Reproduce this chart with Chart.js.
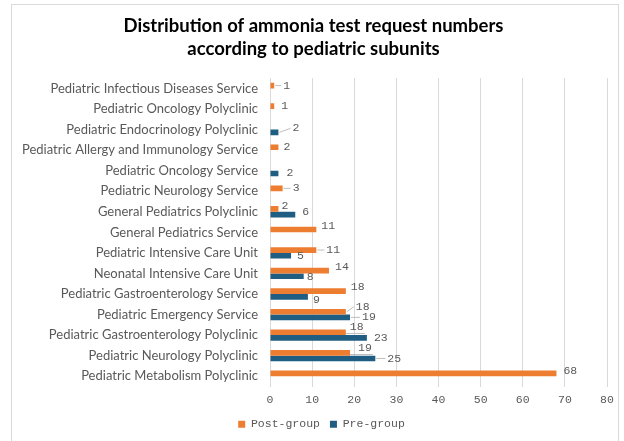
<!DOCTYPE html>
<html>
<head>
<meta charset="utf-8">
<script src="https://cdn.jsdelivr.net/npm/chart.js@4"></script>
<style>
  body { margin: 0; background: #fff; }
</style>
</head>
<body>
<canvas id="myChart" width="624" height="441"></canvas>
<script>
const categories = [
  "Pediatric Infectious Diseases Service",
  "Pediatric Oncology Polyclinic",
  "Pediatric Endocrinology Polyclinic",
  "Pediatric Allergy and Immunology Service",
  "Pediatric Oncology Service",
  "Pediatric Neurology Service",
  "General Pediatrics Polyclinic",
  "General Pediatrics Service",
  "Pediatric Intensive Care Unit",
  "Neonatal Intensive Care Unit",
  "Pediatric Gastroenterology Service",
  "Pediatric Emergency Service",
  "Pediatric Gastroenterology Polyclinic",
  "Pediatric Neurology Polyclinic",
  "Pediatric Metabolism Polyclinic"
];

const postGroup = [1, 1, null, 2, null, 3, 2, 11, 11, 14, 18, 18, 18, 19, 68];
const preGroup = [null, null, 2, null, 2, null, 6, null, 5, 8, 9, 19, 23, 25, null];

const xMin = 0;
const xMax = 80;
const xStep = 10;

// label nudges from the bar end: [dx, dy, leader] ; leader 'under' = line below the text
const postNudge = [
  [9, 0, true], [7, 0], null, [5, 0], null, [10, 0, true], [3, -3], [5, -4],
  [10, 0, true], [6, -4], [5, -4], [10, -5, true], [4, -5, 'under'], [8, -5, 'under'], [7, -2]
];
const preNudge = [
  null, null, [14, -4, true], null, [8, -1], null, [7, -3], null,
  [6, 0], [3, 1], [5, 3], [12, 0, true], [7, 0], [12, 0, true], null
];

const gray = '#595959';
const catFont = 'Lato, "Noto Sans", sans-serif';
const monoFont = '"Liberation Mono", "DejaVu Sans Mono", monospace';

const frame = {
  id: 'frame',
  beforeDraw(chart) {
    const ctx = chart.ctx;
    ctx.save();
    ctx.fillStyle = '#fff';
    ctx.fillRect(0, 0, chart.width, chart.height);
    ctx.strokeStyle = '#D9D9D9';
    ctx.lineWidth = 1;
    ctx.strokeRect(11.5, 4.5, 607, 445);
    ctx.restore();
  }
};

// title and legend sit a little right of the plot centre
const blockShift = {
  id: 'blockShift',
  afterLayout(chart) {
    chart.legend.left += 18;
    chart.legend.right += 18;
    chart.titleBlock.left += 10;
    chart.titleBlock.right += 10;
  }
};

const valueLabels = {
  id: 'valueLabels',
  afterDatasetsDraw(chart) {
    const ctx = chart.ctx;
    const nudges = [postNudge, preNudge];
    ctx.save();
    ctx.font = '11.5px ' + monoFont;
    ctx.fillStyle = gray;
    ctx.textAlign = 'left';
    ctx.textBaseline = 'middle';
    ctx.strokeStyle = '#BFBFBF';
    ctx.lineWidth = 1;
    chart.data.datasets.forEach((ds, d) => {
      const meta = chart.getDatasetMeta(d);
      meta.data.forEach((bar, i) => {
        const v = ds.data[i];
        const n = nudges[d][i];
        if (v === null || !n) return;
        const text = String(v);
        const tx = bar.x + n[0];
        const ty = bar.y + n[1];
        if (n[2] === 'under') {
          const w = ctx.measureText(text).width;
          const ly = Math.round(ty + 6) + 0.5;
          ctx.beginPath();
          ctx.moveTo(bar.x, ly);
          ctx.lineTo(tx + w + 1, ly);
          ctx.stroke();
        } else if (n[2]) {
          ctx.beginPath();
          ctx.moveTo(bar.x + 1, bar.y);
          ctx.lineTo(tx - 2, ty);
          ctx.stroke();
        }
        ctx.fillText(text, tx, ty);
      });
    });
    ctx.restore();
  }
};

new Chart(document.getElementById('myChart').getContext('2d'), {
  type: 'bar',
  data: {
    labels: categories,
    datasets: [
      {
        label: 'Post-group',
        data: postGroup,
        backgroundColor: '#ED7D31',
        categoryPercentage: 0.55,
        barPercentage: 1
      },
      {
        label: 'Pre-group',
        data: preGroup,
        backgroundColor: '#1F5E82',
        categoryPercentage: 0.55,
        barPercentage: 1
      }
    ]
  },
  options: {
    indexAxis: 'y',
    responsive: false,
    animation: false,
    layout: { padding: { left: 0, right: 17, top: 0, bottom: 1 } },
    scales: {
      x: {
        min: xMin,
        max: xMax,
        afterFit(scale) { scale.height = 22; },
        ticks: {
          stepSize: xStep,
          color: gray,
          padding: 7,
          font: { family: monoFont, size: 11.5, lineHeight: 1.2 }
        },
        grid: { color: '#D9D9D9', drawTicks: false },
        border: { display: false }
      },
      y: {
        afterFit(scale) { scale.width = 270; },
        ticks: {
          color: gray,
          padding: 12,
          font: { family: catFont, size: 13 }
        },
        grid: { display: false, drawTicks: false },
        border: { display: false }
      }
    },
    plugins: {
      title: {
        display: true,
        text: ['Distribution of ammonia test request numbers', 'according to pediatric subunits'],
        color: '#000',
        font: { family: catFont, size: 18.5, weight: 'bold', lineHeight: 1.22 },
        padding: { top: 15, bottom: 18 }
      },
      legend: {
        position: 'bottom',
        labels: {
          color: gray,
          boxWidth: 7,
          boxHeight: 7,
          padding: 10,
          font: { family: monoFont, size: 11.5, lineHeight: 1.2 }
        }
      },
      tooltip: { enabled: false }
    }
  },
  plugins: [frame, blockShift, valueLabels]
});
</script>
</body>
</html>
